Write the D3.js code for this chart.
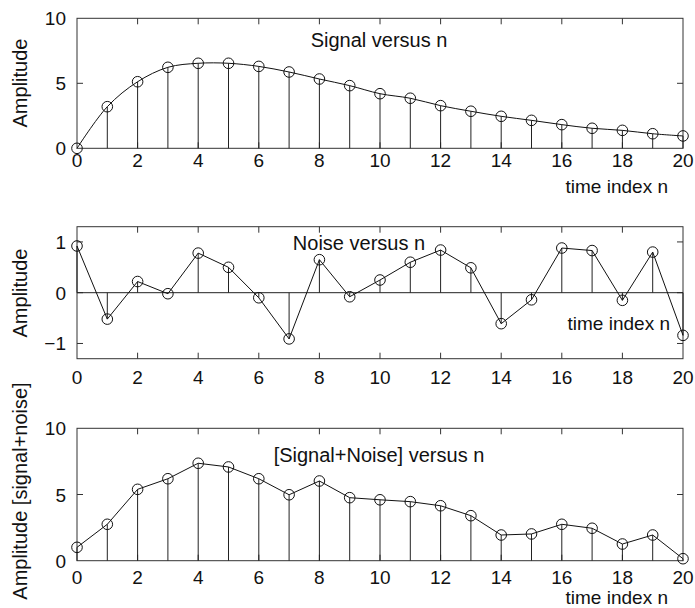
<!DOCTYPE html>
<html>
<head>
<meta charset="utf-8">
<script src="https://cdn.jsdelivr.net/npm/d3@7"></script>
<style>
  body { margin: 0; background: #fff; }
  text { font-family: "Liberation Sans", Arial, Helvetica, sans-serif; fill: #111; }
</style>
</head>
<body>
<div class="canvas"></div>
<script>
// data
const nIndex = d3.range(0, 21);
const signal = [0, 3.2, 5.12, 6.23, 6.54, 6.54, 6.3, 5.87, 5.33, 4.82, 4.2, 3.85, 3.28, 2.85, 2.46, 2.15, 1.82, 1.54, 1.38, 1.12, 0.95];
const noise = [0.92, -0.52, 0.22, -0.02, 0.78, 0.5, -0.1, -0.91, 0.65, -0.08, 0.25, 0.6, 0.84, 0.49, -0.61, -0.14, 0.88, 0.83, -0.15, 0.8, -0.84];
const combined = [1.01, 2.75, 5.39, 6.19, 7.36, 7.08, 6.19, 4.98, 6.02, 4.76, 4.6, 4.46, 4.15, 3.4, 1.94, 2.02, 2.75, 2.45, 1.26, 1.94, 0.15];
const xTicks = [0, 2, 4, 6, 8, 10, 12, 14, 16, 18, 20];

const dims = {width: 695, height: 608};

const svg = d3.select('.canvas')
.append('svg')
.attr('width', dims.width)
.attr('height', dims.height);

const x = d3.scaleLinear().domain([0, 20]).range([77, 683]);

const panels = [
  {values: signal, domain: [0, 10], top: 18.3, bottom: 148.3, yTicks: [0, 5, 10],
   ylabel: 'Amplitude', ylabelY: 83, title: 'Signal versus n', titleX: 379, titleY: 46.5,
   xlabX: 668, xlabY: 193, tickLabY: 167, curve: d3.curveCatmullRom, zeroLine: false},
  {values: noise, domain: [-1.3, 1.3], top: 226.7, bottom: 358.7, yTicks: [-1, 0, 1],
   ylabel: 'Amplitude', ylabelY: 293, title: 'Noise versus n', titleX: 359, titleY: 249.5,
   xlabX: 670, xlabY: 330, tickLabY: 383.5, curve: d3.curveLinear, zeroLine: true},
  {values: combined, domain: [0, 10], top: 428.3, bottom: 560.7, yTicks: [0, 5, 10],
   ylabel: 'Amplitude [signal+noise]', ylabelY: 491, title: '[Signal+Noise] versus n', titleX: 379, titleY: 462,
   xlabX: 668, xlabY: 603.5, tickLabY: 583.5, curve: d3.curveLinear, zeroLine: false}
];

panels.forEach(p => {
  const y = d3.scaleLinear().domain(p.domain).range([p.bottom, p.top]);
  const g = svg.append('g');
  const pts = nIndex.map((n, i) => ({n, v: p.values[i]}));

  // frame
  g.append('rect')
  .attr('x', x(0)).attr('y', p.top)
  .attr('width', x(20) - x(0)).attr('height', p.bottom - p.top)
  .attr('fill', 'none').attr('stroke', '#333').attr('stroke-width', 1);

  // inward ticks
  const tl = 6;
  g.selectAll('.xt-top').data(xTicks.slice(1, -1)).enter()
  .append('line')
  .attr('x1', d => x(d)).attr('x2', d => x(d))
  .attr('y1', p.top).attr('y2', p.top + tl)
  .attr('stroke', '#333');
  g.selectAll('.xt-bot').data(xTicks.slice(1, -1)).enter()
  .append('line')
  .attr('x1', d => x(d)).attr('x2', d => x(d))
  .attr('y1', p.bottom).attr('y2', p.bottom - tl)
  .attr('stroke', '#333');
  const innerY = p.yTicks.filter(d => y(d) > p.top + 1 && y(d) < p.bottom - 1);
  g.selectAll('.yt').data(innerY).enter()
  .append('line')
  .attr('x1', x(0)).attr('x2', x(0) + tl)
  .attr('y1', d => y(d)).attr('y2', d => y(d))
  .attr('stroke', '#333');
  g.selectAll('.yt2').data(innerY).enter()
  .append('line')
  .attr('x1', x(20)).attr('x2', x(20) - tl)
  .attr('y1', d => y(d)).attr('y2', d => y(d))
  .attr('stroke', '#333');

  if (p.zeroLine) {
    g.append('line')
    .attr('x1', x(0)).attr('x2', x(20))
    .attr('y1', y(0)).attr('y2', y(0))
    .attr('stroke', '#222');
  }

  // tick labels
  g.selectAll('.xl').data(xTicks).enter()
  .append('text')
  .attr('x', d => x(d)).attr('y', p.tickLabY)
  .attr('text-anchor', 'middle')
  .style('font-size', '19px')
  .text(d => d);
  g.selectAll('.yl').data(p.yTicks).enter()
  .append('text')
  .attr('x', x(0) - 11).attr('y', d => y(d) + 7)
  .attr('text-anchor', 'end')
  .style('font-size', '19px')
  .text(d => d < 0 ? '\u2212' + Math.abs(d) : d);

  // stems
  g.selectAll('.stem').data(pts).enter()
  .append('line')
  .attr('x1', d => x(d.n)).attr('x2', d => x(d.n))
  .attr('y1', y(0)).attr('y2', d => y(d.v))
  .attr('stroke', '#222').attr('stroke-width', 1);

  // connecting line
  g.append('path')
  .datum(pts)
  .attr('fill', 'none').attr('stroke', '#111').attr('stroke-width', 1)
  .attr('d', d3.line().x(d => x(d.n)).y(d => y(d.v)).curve(p.curve));

  // circles
  g.selectAll('.pt').data(pts).enter()
  .append('circle')
  .attr('cx', d => x(d.n)).attr('cy', d => y(d.v))
  .attr('r', 5.3)
  .attr('fill', 'none').attr('stroke', '#111').attr('stroke-width', 1);

  // texts
  g.append('text')
  .attr('x', p.titleX).attr('y', p.titleY)
  .attr('text-anchor', 'middle')
  .style('font-size', '20px')
  .text(p.title);
  g.append('text')
  .attr('x', p.xlabX).attr('y', p.xlabY)
  .attr('text-anchor', 'end')
  .style('font-size', '19px')
  .text('time index n');
  g.append('text')
  .attr('transform', `translate(27, ${p.ylabelY}) rotate(-90)`)
  .attr('text-anchor', 'middle')
  .style('font-size', '20px')
  .text(p.ylabel);
});
</script>
</body>
</html>
